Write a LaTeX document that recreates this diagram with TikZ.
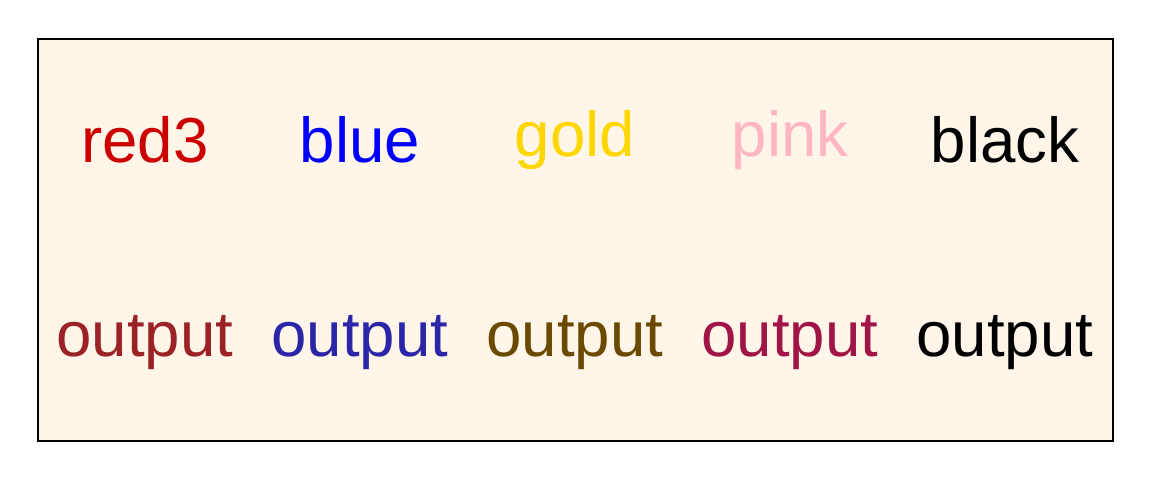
\documentclass[tikz,border=0pt]{standalone}
\usepackage{fontspec}
\setmainfont{Liberation Sans}
\definecolor{bgcream}{HTML}{FFF6E9}
\definecolor{cred}{HTML}{CD0000}
\definecolor{cblue}{HTML}{0000FF}
\definecolor{cgold}{HTML}{FFD700}
\definecolor{cpink}{HTML}{FFB6C1}
\definecolor{oone}{HTML}{9B2226}
\definecolor{otwo}{HTML}{2B25A8}
\definecolor{othree}{HTML}{6B4A00}
\definecolor{ofour}{HTML}{A01545}
\begin{document}
\begin{tikzpicture}[x=0.5pt,y=0.5pt,
  lbl/.style={inner sep=0pt,font=\fontsize{31.8pt}{36pt}\selectfont}]
\useasboundingbox (0,0) rectangle (1152,480);
\draw[line width=1pt,fill=bgcream] (38,39) rectangle (1113,441);
\node[lbl,text=cred]  (t1) at (145,340) {red3};
\node[lbl,text=cblue] (t2) at (360,340) {blue};
\node[lbl,text=cgold] (t3) at (575,340) {gold};
\node[lbl,text=cpink] (t4) at (790,340) {pink};
\node[lbl,text=black] (t5) at (1005,340) {black};
\node[lbl,text=oone]   (b1) at (145,137) {output};
\node[lbl,text=otwo]   (b2) at (360,137) {output};
\node[lbl,text=othree] (b3) at (575,137) {output};
\node[lbl,text=ofour]  (b4) at (790,137) {output};
\node[lbl,text=black]  (b5) at (1005,137) {output};
\end{tikzpicture}
\end{document}
